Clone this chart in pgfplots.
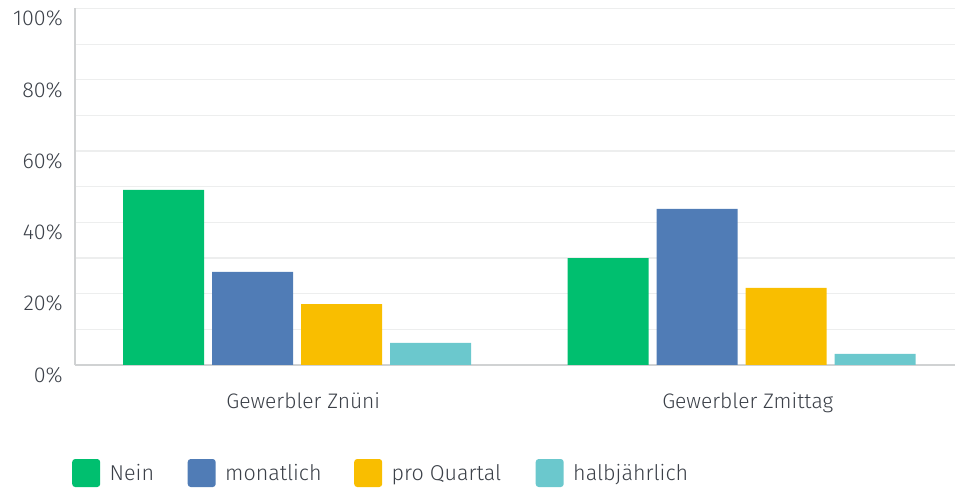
\documentclass[border=0pt]{standalone}
\usepackage{pgfplots}
\pgfplotsset{compat=1.18}
\usepackage{fontspec}
\setmainfont{Fira Sans}[UprightFont=* Light]
\definecolor{cNein}{HTML}{00BF6F}
\definecolor{cMon}{HTML}{507CB6}
\definecolor{cQua}{HTML}{F9BE00}
\definecolor{cHalb}{HTML}{6BC8CD}
\definecolor{txt}{HTML}{3B4048}
\definecolor{gridc}{HTML}{EDEEEE}
\definecolor{axc}{HTML}{D0D2D3}
\begin{document}
\begin{tikzpicture}
\useasboundingbox (0,0) rectangle (955pt,492pt);
\begin{axis}[
  at={(75pt,127pt)}, anchor=south west,
  scale only axis, width=880pt, height=356.5pt,
  ymin=0, ymax=100, xmin=-0.5, xmax=1.48,
  ybar=8pt, bar width=81pt,
  axis x line*=bottom, axis y line*=left,
  axis line style={draw=axc, line width=1.2pt, -},
  xtick={0,1}, xticklabels={Gewerbler Znüni, Gewerbler Zmittag},
  ytick={0,20,...,100}, minor ytick={10,30,...,90},
  yticklabel={\pgfmathprintnumber{\tick}\%},
  /pgf/number format/assume math mode=true,
  major tick length=0pt, minor tick length=0pt,
  ymajorgrids, yminorgrids,
  major grid style={draw=gridc, line width=1.2pt},
  minor grid style={draw=gridc, line width=1.2pt},
  yticklabel style={font=\fontsize{21.5}{24}\selectfont, text=txt, anchor=east, inner sep=0pt, xshift=-12pt, yshift=-10pt},
  xticklabel style={font=\fontsize{21}{24}\selectfont, text=txt, anchor=north, inner sep=0pt, yshift=-27pt, xshift=6pt},
  legend style={at={(-0.0068,-0.303)}, anchor=west, draw=none, fill=none,
    legend columns=-1, font=\fontsize{21.5}{24}\selectfont, text=txt,
    nodes={inner sep=0pt, anchor=west},
    /tikz/every odd column/.style={column sep=9.5pt},
    /tikz/every even column/.style={column sep=0pt}},
  legend image code/.code={\fill[#1, draw=none, rounded corners=3pt] (0pt,-14pt) rectangle (28pt,14pt);},
]
\addplot[fill=cNein, draw=none] coordinates {(0,49.1) (1,30.0)};
\addplot[fill=cMon, draw=none] coordinates {(0,26.1) (1,43.8)};
\addplot[fill=cQua, draw=none] coordinates {(0,17.1) (1,21.6)};
\addplot[fill=cHalb, draw=none] coordinates {(0,6.2) (1,3.1)};
\legend{\makebox[78pt][l]{Nein}, \makebox[129pt][l]{monatlich}, \makebox[144pt][l]{pro Quartal}, halbjährlich}
\end{axis}
\end{tikzpicture}
\end{document}
